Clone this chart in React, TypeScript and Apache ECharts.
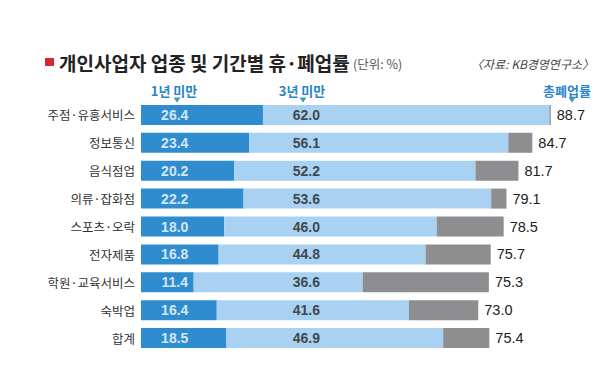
import React, { useEffect, useRef } from "react";
import * as echarts from "echarts";

const categories = [
  "주점·유흥서비스",
  "정보통신",
  "음식점업",
  "의류·잡화점",
  "스포츠·오락",
  "전자제품",
  "학원·교육서비스",
  "숙박업",
  "합계",
];
const underOneYear = [26.4, 23.4, 20.2, 22.2, 18.0, 16.8, 11.4, 16.4, 18.5];
const underThreeYears = [62.0, 56.1, 52.2, 53.6, 46.0, 44.8, 36.6, 41.6, 46.9];
const totalClosure = [88.7, 84.7, 81.7, 79.1, 78.5, 75.7, 75.3, 73.0, 75.4];

const headerLabels = ["1년 미만", "3년 미만", "총폐업률"];

const DARK = "#2f8dcf";
const LIGHT = "#a9d1f1";
const GRAY = "#8e8e91";
const HEAD = "#2a86c4";
const TRI = "#3a9ac6";
const NUM_FONT = "'Liberation Sans', 'Noto Sans CJK KR', sans-serif";
const KR_FONT = "'Noto Sans CJK KR', 'Noto Sans', sans-serif";

// fixed label columns (in axis units)
const COL_ONE = 7.3;
const COL_THREE = 35.8;

export default function App() {
  const ref = useRef<HTMLDivElement>(null);
  useEffect(() => {
    if (!ref.current) return;
    const chart = echarts.init(ref.current, undefined, { renderer: "svg" });
    const remainder = totalClosure.map((t, i) =>
      Math.max(0, +(t - underOneYear[i] - underThreeYears[i]).toFixed(2))
    );
    const tri = (cx: number, cy: number) => ({
      type: "polygon",
      shape: { points: [[cx - 3.5, cy - 2.5], [cx + 3.5, cy - 2.5], [cx, cy + 2.5]] },
      style: { fill: TRI },
    });
    chart.setOption({
      animation: false,
      backgroundColor: "#ffffff",
      grid: { left: 141, width: 462, top: 101, height: 251 },
      xAxis: {
        type: "value",
        min: 0,
        max: 100,
        show: false,
      },
      yAxis: {
        type: "category",
        data: categories,
        inverse: true,
        axisLine: { show: false },
        axisTick: { show: false },
        axisLabel: {
          margin: 6,
          fontSize: 12.5,
          color: "#333",
          fontFamily: KR_FONT,
        },
      },
      series: [
        {
          type: "bar",
          stack: "s",
          data: underOneYear,
          barWidth: 20,
          itemStyle: { color: DARK },
        },
        {
          type: "bar",
          stack: "s",
          data: underThreeYears,
          barWidth: 20,
          itemStyle: { color: LIGHT },
        },
        {
          type: "bar",
          stack: "s",
          data: remainder,
          barWidth: 20,
          itemStyle: { color: GRAY },
          label: {
            show: true,
            position: "right",
            distance: 6,
            fontSize: 14.5,
            color: "#222",
            fontFamily: NUM_FONT,
            formatter: (p: any) => totalClosure[p.dataIndex].toFixed(1),
          },
        },
        {
          type: "scatter",
          data: underOneYear.map((v, i) => [COL_ONE, i, v]),
          symbolSize: 1,
          itemStyle: { color: "rgba(0,0,0,0)" },
          silent: true,
          label: {
            show: true,
            position: "inside",
            fontSize: 14,
            fontWeight: "bold",
            color: "#ffffff",
            fontFamily: NUM_FONT,
            formatter: (p: any) => Number(p.value[2]).toFixed(1),
          },
          z: 5,
        },
        {
          type: "scatter",
          data: underThreeYears.map((v, i) => [COL_THREE, i, v]),
          symbolSize: 1,
          itemStyle: { color: "rgba(0,0,0,0)" },
          silent: true,
          label: {
            show: true,
            position: "inside",
            fontSize: 14,
            fontWeight: "bold",
            color: "#222",
            fontFamily: NUM_FONT,
            formatter: (p: any) => Number(p.value[2]).toFixed(1),
          },
          z: 5,
        },
      ],
      graphic: [
        { type: "rect", shape: { x: 45, y: 58, width: 9, height: 8 }, style: { fill: "#d7262e" } },
        {
          type: "text",
          x: 59,
          y: 62,
          style: {
            text: "개인사업자 업종 및 기간별 휴·폐업률",
            fontSize: 19,
            fontWeight: "bold",
            fill: "#222",
            fontFamily: KR_FONT,
            verticalAlign: "middle",
          },
        },
        {
          type: "text",
          x: 353,
          y: 63,
          style: {
            text: "(단위: %)",
            fontSize: 12.5,
            fill: "#555",
            fontFamily: KR_FONT,
            verticalAlign: "middle",
          },
        },
        {
          type: "text",
          x: 594,
          y: 63,
          style: {
            text: "〈자료: KB경영연구소〉",
            fontSize: 12,
            fontStyle: "italic",
            fill: "#444",
            fontFamily: KR_FONT,
            align: "right",
            verticalAlign: "middle",
          },
        },
        {
          type: "text",
          x: 174,
          y: 90,
          style: { text: headerLabels[0], fontSize: 13, fontWeight: "bold", fill: HEAD, fontFamily: KR_FONT, align: "center", verticalAlign: "middle" },
        },
        {
          type: "text",
          x: 302,
          y: 90,
          style: { text: headerLabels[1], fontSize: 13, fontWeight: "bold", fill: HEAD, fontFamily: KR_FONT, align: "center", verticalAlign: "middle" },
        },
        {
          type: "text",
          x: 567,
          y: 90,
          style: { text: headerLabels[2], fontSize: 13, fontWeight: "bold", fill: HEAD, fontFamily: KR_FONT, align: "center", verticalAlign: "middle" },
        },
        tri(177, 100),
        tri(303, 100),
        tri(572, 100),
      ],
    });
    return () => chart.dispose();
  }, []);
  return (
    <div
      ref={ref}
      style={{ position: "fixed", left: 0, top: 0, width: 611, height: 378, background: "#fff" }}
    />
  );
}
